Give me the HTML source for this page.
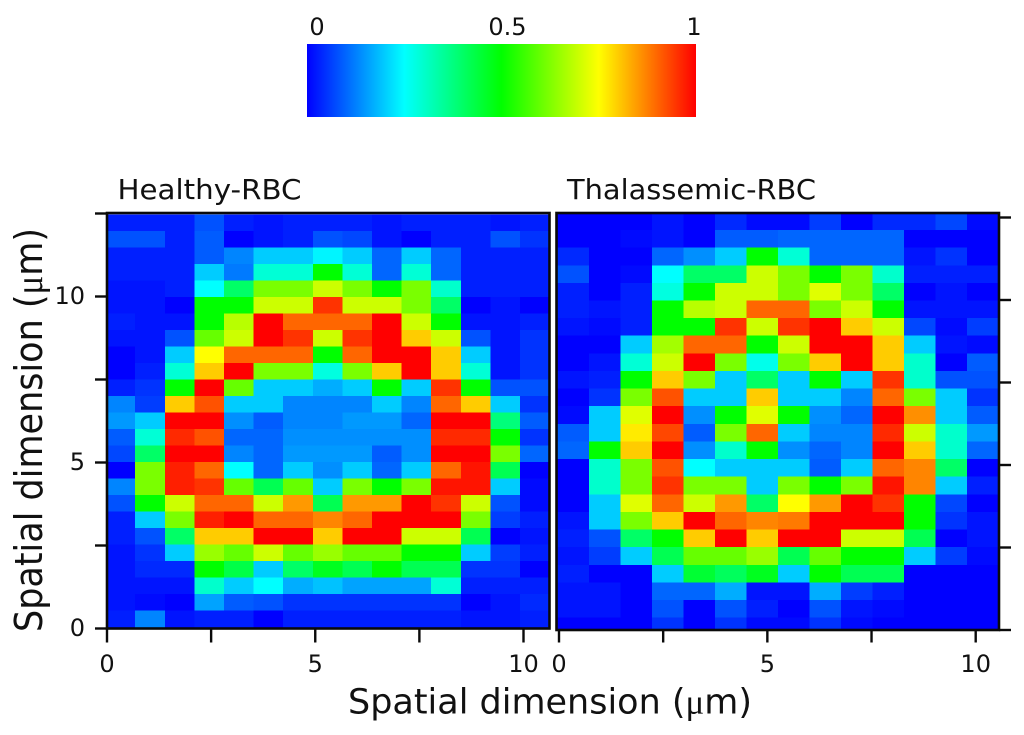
<!DOCTYPE html>
<html lang="en">
<head>
<meta charset="utf-8">
<title>Healthy and Thalassemic RBC maps</title>
<style>
html,body{margin:0;padding:0;background:#fff;width:1024px;height:735px;overflow:hidden}
svg{display:block}
text{font-family:"DejaVu Sans","Liberation Sans",sans-serif;fill:#111}
</style>
</head>
<body>
<svg id="fig" xmlns="http://www.w3.org/2000/svg" width="1024" height="735" viewBox="0 0 1024 735">
  <defs>
    <clipPath id="clip-a"><rect x="107" y="213" width="443" height="416"/></clipPath>
    <clipPath id="clip-b"><rect x="556" y="213" width="443" height="417"/></clipPath>
  </defs>
  <g id="colorbar"></g>
  <g id="panel-a"></g>
  <g id="panel-b"></g>
  <text x="117.5" y="199" font-size="27.5" textLength="184" lengthAdjust="spacingAndGlyphs">Healthy-RBC</text>
  <text x="567" y="199" font-size="27.5" textLength="249" lengthAdjust="spacingAndGlyphs">Thalassemic-RBC</text>
  <text x="348" y="713.5" font-size="34.5" textLength="404" lengthAdjust="spacingAndGlyphs">Spatial dimension (<tspan font-family="'Liberation Serif',serif">μ</tspan>m)</text>
  <text transform="translate(42,632) rotate(-90)" font-size="38" textLength="404" lengthAdjust="spacingAndGlyphs">Spatial dimension (<tspan font-family="'Liberation Serif',serif">μ</tspan>m)</text>
</svg>
<script>
const healthyValues = [
[.03,.03,.03,.08,.03,.02,.03,.03,.03,.02,.03,.03,.03,.02,.03],
[.08,.08,.03,.09,.00,.02,.03,.08,.07,.02,.00,.03,.03,.08,.05],
[.03,.03,.03,.09,.13,.20,.20,.24,.20,.10,.20,.10,.03,.03,.03],
[.03,.03,.03,.20,.12,.29,.29,.50,.29,.10,.29,.10,.03,.03,.03],
[.02,.02,.03,.25,.40,.62,.62,.70,.62,.50,.62,.30,.03,.03,.03],
[.02,.02,.00,.50,.50,.70,.70,.95,.70,.70,.62,.40,.00,.02,.00],
[.03,.02,.02,.50,.68,1.0,.90,.90,.90,1.0,.70,.50,.02,.02,.03],
[.02,.02,.08,.60,.70,1.0,.95,.70,.95,1.0,.80,.70,.08,.02,.05],
[.00,.02,.20,.75,.90,.90,.90,.50,.90,1.0,1.0,.80,.20,.02,.05],
[.00,.03,.29,.80,1.0,.62,.62,.28,.62,.80,1.0,.80,.29,.02,.05],
[.03,.05,.50,1.0,.60,.20,.20,.17,.20,.50,.20,.95,.50,.08,.08],
[.13,.06,.80,.92,.20,.20,.13,.13,.13,.20,.13,.90,.80,.20,.05],
[.15,.20,1.0,1.0,.14,.09,.13,.13,.15,.15,.10,1.0,1.0,.38,.09],
[.09,.29,.96,.92,.10,.10,.14,.14,.14,.14,.14,.96,.96,.50,.05],
[.07,.40,1.0,1.0,.13,.10,.15,.15,.15,.09,.14,1.0,1.0,.62,.10],
[.00,.62,.97,.90,.25,.10,.20,.14,.20,.10,.20,.90,.98,.42,.00],
[.13,.62,.97,.95,.60,.42,.60,.20,.62,.50,.62,.98,.98,.20,.01],
[.08,.50,.70,.90,.90,.70,.85,.42,.85,.85,1.0,.95,.70,.08,.01],
[.03,.20,.62,.97,1.0,.90,.90,.87,.90,1.0,1.0,1.0,.62,.06,.03],
[.03,.08,.40,.80,.80,1.0,1.0,.80,1.0,1.0,.70,.70,.42,.00,.02],
[.02,.05,.20,.65,.60,.70,.60,.65,.60,.60,.50,.50,.20,.06,.03],
[.02,.04,.04,.50,.43,.20,.40,.47,.42,.50,.42,.42,.05,.05,.00],
[.02,.02,.02,.30,.20,.25,.17,.19,.16,.16,.16,.29,.03,.03,.03],
[.02,.01,.00,.16,.09,.08,.05,.05,.05,.05,.05,.05,.00,.02,.04],
[.03,.13,.02,.03,.03,.00,.03,.03,.03,.03,.03,.03,.02,.02,.03]
];
const thalassemicValues = [
[.00,.00,.00,.02,.00,.04,.01,.01,.06,.00,.04,.04,.07,.01],
[.00,.00,.01,.02,.00,.09,.09,.10,.10,.10,.10,.00,.00,.00],
[.04,.00,.00,.10,.14,.20,.50,.29,.10,.10,.10,.02,.05,.00],
[.08,.00,.01,.25,.40,.40,.70,.62,.50,.62,.30,.03,.03,.03],
[.03,.00,.03,.28,.50,.70,.70,.62,.72,.62,.40,.00,.02,.00],
[.03,.02,.03,.50,.68,.70,.90,.90,.62,.70,.50,.02,.02,.02],
[.02,.01,.03,.50,.50,.95,.70,.95,1.0,.80,.70,.07,.01,.06],
[.00,.00,.20,.66,.90,.90,.50,.70,1.0,1.0,.80,.20,.02,.01],
[.00,.02,.29,.70,1.0,.62,.27,.62,.80,1.0,.80,.30,.00,.09],
[.02,.03,.50,.80,.62,.20,.40,.20,.50,.20,.95,.30,.08,.08],
[.00,.05,.62,.92,.20,.20,.80,.20,.20,.13,.90,.62,.20,.05],
[.01,.20,.72,1.0,.14,.50,.72,.50,.14,.10,1.0,.86,.20,.09],
[.09,.20,.77,.93,.09,.62,.90,.20,.13,.13,.96,.70,.30,.15],
[.10,.50,.80,1.0,.14,.30,.50,.14,.10,.13,1.0,.80,.30,.10],
[.00,.30,.62,.92,.25,.20,.20,.20,.09,.20,.90,.87,.40,.00],
[.00,.30,.62,.95,.62,.62,.20,.62,.50,.62,.98,.87,.20,.03],
[.00,.20,.72,.90,.70,.85,.40,.75,.85,1.0,.95,.50,.07,.00],
[.02,.20,.62,.80,1.0,.90,.87,.88,1.0,1.0,1.0,.50,.05,.02],
[.03,.08,.40,.50,.80,1.0,.80,1.0,1.0,.70,.70,.42,.00,.02],
[.02,.06,.20,.42,.60,.60,.65,.42,.60,.50,.50,.20,.06,.01],
[.03,.00,.00,.20,.45,.41,.47,.20,.50,.42,.42,.00,.00,.00],
[.02,.02,.00,.10,.10,.17,.02,.02,.17,.06,.03,.00,.00,.00],
[.02,.02,.00,.08,.00,.08,.03,.00,.08,.02,.01,.00,.00,.00],
[.00,.00,.00,.05,.00,.05,.01,.01,.05,.01,.00,.00,.00,.00]
];
const xTickValues = [0, 2.5, 5, 7.5, 10];
const xTickLabels = ["0", "", "5", "", "10"];
const yTickValues = [0, 2.5, 5, 7.5, 10, 12.5];
const yTickLabels = ["0", "", "5", "", "10", ""];
const colorbarTicks = [0, 0.5, 1];
const colorbarTickLabels = ["0", "0.5", "1"];

const NS = "http://www.w3.org/2000/svg";
function mk(parent, tag, attrs, text) {
  const el = document.createElementNS(NS, tag);
  for (const k in attrs) el.setAttribute(k, attrs[k]);
  if (text !== undefined) el.textContent = text;
  parent.appendChild(el);
  return el;
}
function jet(v) {
  const t = Math.max(0, Math.min(1, v)) * 4;
  let r = 0, g = 0, b = 0;
  if (t < 1) { g = t; b = 1; }
  else if (t < 2) { g = 1; b = 2 - t; }
  else if (t < 3) { r = t - 2; g = 1; }
  else { r = 1; g = 4 - t; }
  return "rgb(" + Math.round(r * 255) + "," + Math.round(g * 255) + "," + Math.round(b * 255) + ")";
}

function drawPanel(cfg) {
  const g = document.getElementById(cfg.id);
  const xAxis = um => cfg.x0 + um * cfg.pxPerX;
  const yAxis = um => cfg.y0 - um * cfg.pxPerY;
  const colX = i => cfg.gridX + i * cfg.cellW;
  const rowY = i => cfg.gridY + i * cfg.cellH;
  const cells = mk(g, "g", { "clip-path": "url(#" + cfg.clip + ")", "shape-rendering": "crispEdges" });
  
  
  cfg.values.forEach(function (row, r) {
    row.forEach(function (v, c) {
      const cell = mk(cells, "rect", {
        x: colX(c).toFixed(2), y: rowY(r).toFixed(2),
        width: (cfg.cellW + 0.6).toFixed(2), height: (cfg.cellH + 0.6).toFixed(2),
        fill: jet(v)
      });
      
      
    });
  });
  const frame = mk(g, "rect", {
    x: cfg.left, y: cfg.top, width: cfg.right - cfg.left, height: cfg.bottom - cfg.top,
    fill: "none", stroke: "#0a0a0a", "stroke-width": 2.6
  });
  
  
  xTickValues.forEach(function (v, i) {
    const x = xAxis(v);
    const tick = mk(g, "line", { x1: x, x2: x, y1: cfg.bottom, y2: 642.5, stroke: "#0a0a0a", "stroke-width": 2.4 });
    
    
    if (xTickLabels[i]) {
      const label = mk(g, "text", { x: x, y: 672, "font-size": 24, "text-anchor": "middle" }, xTickLabels[i]);
      
      
    }
  });
  yTickValues.forEach(function (v, i) {
    const y = yAxis(v);
    const x2 = cfg.side === "left" ? cfg.left - 12 : cfg.right + 12;
    const x1 = cfg.side === "left" ? cfg.left : cfg.right;
    const tick = mk(g, "line", { x1: x1, x2: x2, y1: y, y2: y, stroke: "#0a0a0a", "stroke-width": 2.4 });
    
    
    if (cfg.side === "left" && yTickLabels[i]) {
      const label = mk(g, "text", { x: 85, y: y + 7.5, "font-size": 24, "text-anchor": "end" }, yTickLabels[i]);
      
      
    }
  });
}

drawPanel({ id: "panel-a", clip: "clip-a", values: healthyValues, side: "left",
  left: 107, right: 549.5, top: 213, bottom: 628.5,
  x0: 107, pxPerX: 41.65, y0: 628.5, pxPerY: 33.2,
  gridX: 105.6, gridY: 214.5, cellW: 29.6, cellH: 16.49 });
drawPanel({ id: "panel-b", clip: "clip-b", values: thalassemicValues, side: "right",
  left: 556.5, right: 999, top: 213, bottom: 630,
  x0: 559, pxPerX: 41.67, y0: 630, pxPerY: 33.0,
  gridX: 557.3, gridY: 212.4, cellW: 31.5, cellH: 17.62 });

(function drawColorbar() {
  const g = document.getElementById("colorbar");
  const barLeft = 307, barWidth = 389, barTop = 44, barHeight = 73;
  const barX = v => barLeft + v * barWidth;
  const defs = document.querySelector("#fig defs");
  const grad = mk(defs, "linearGradient", { id: "jet-gradient", x1: 0, x2: 1, y1: 0, y2: 0 });
  for (let i = 0; i <= 4; i++) {
    mk(grad, "stop", { offset: i / 4, "stop-color": jet(i / 4) });
  }
  const bar = mk(g, "rect", { x: barLeft, y: barTop, width: barWidth, height: barHeight, fill: "url(#jet-gradient)" });
  
  
  colorbarTicks.forEach(function (v, i) {
    const offset = v === 0 ? 10 : v === 1 ? -2 : 6;
    const label = mk(g, "text", { x: barX(v) + offset, y: 35, "font-size": 24, "text-anchor": "middle" }, colorbarTickLabels[i]);
    
    
  });
})();
</script>
</body>
</html>
